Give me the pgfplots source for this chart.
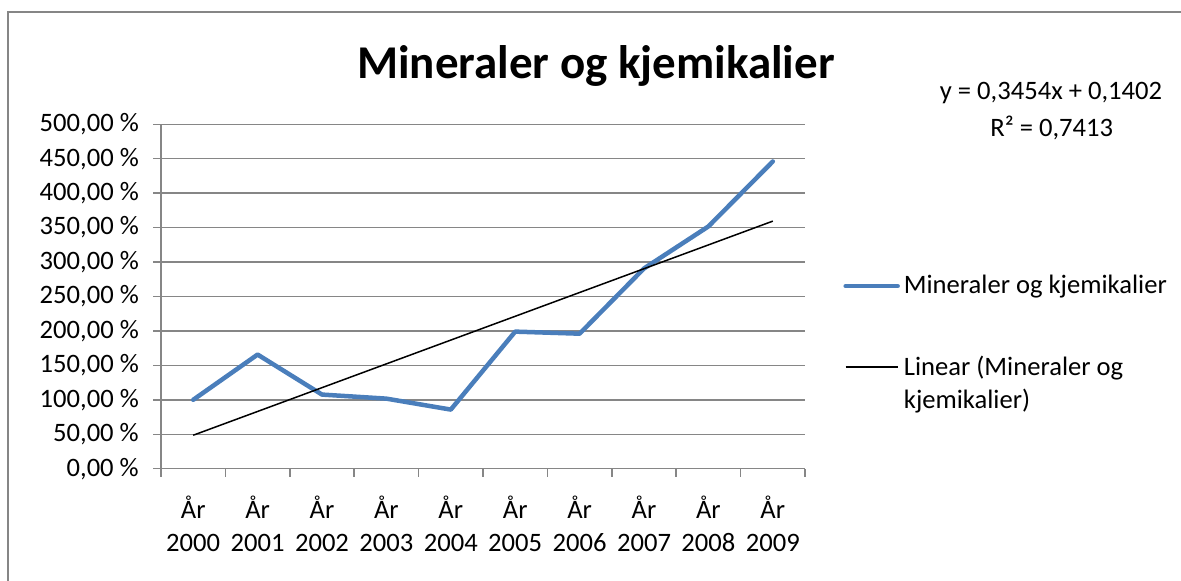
\documentclass[border=0pt]{standalone}
\usepackage{fontspec}
\setmainfont{Carlito}
\usepackage{pgfplots}
\pgfplotsset{compat=1.18}
\definecolor{exblue}{HTML}{4A7EBB}
\definecolor{exgray}{HTML}{868686}
\begin{document}
\begin{tikzpicture}[x=0.5pt,y=0.5pt]
\useasboundingbox (0,0) rectangle (1181,581);
\draw[exgray, line width=1pt] (8,0) -- (8,569) -- (1181,569);
\node[font=\fontsize{23.5}{28}\selectfont\bfseries, anchor=base, inner sep=0pt] at (596,502.7) {Mineraler og kjemikalier};
\node[font=\fontsize{13.3}{16}\selectfont, anchor=base, inner sep=0pt] at (1051,481) {y = 0,3454x + 0,1402};
\node[font=\fontsize{13.3}{16}\selectfont, anchor=base, inner sep=0pt] at (1051.7,444) {R² = 0,7413};
\begin{axis}[
  at={(80.5pt,56.15pt)}, anchor=south west,
  scale only axis, width=322pt, height=172.2pt,
  xmin=0.5, xmax=10.5, ymin=0, ymax=500,
  axis x line*=bottom, axis y line*=left,
  axis line style={exgray, line width=0.75pt},
  tick align=outside, major tick length=4pt,
  tick style={exgray, line width=0.75pt},
  ytick={0,50,...,500},
  yticklabels={{0,00 \%},{50,00 \%},{100,00 \%},{150,00 \%},{200,00 \%},{250,00 \%},{300,00 \%},{350,00 \%},{400,00 \%},{450,00 \%},{500,00 \%}},
  yticklabel style={font=\fontsize{13.3}{16}\selectfont, xshift=-3.6pt},
  xtick={0.5,1.5,...,10.5}, xticklabels={},
  extra x ticks={1,2,3,4,5,6,7,8,9,10},
  extra x tick labels={{År\\2000},{År\\2001},{År\\2002},{År\\2003},{År\\2004},{År\\2005},{År\\2006},{År\\2007},{År\\2008},{År\\2009}},
  extra x tick style={major tick length=0pt, xticklabel style={align=center, font=\fontsize{13.3}{16.5}\selectfont, yshift=-10pt}},
  ymajorgrids, grid style={exgray, line width=0.75pt},
  legend image code/.code={\draw[#1] (0pt,0pt) -- (26pt,0pt);},
  legend cell align=left,
  legend style={at={(axis description cs:1.059,0.574)}, anchor=north west, draw=none, fill=none,
    font=\fontsize{13.3}{16.5}\selectfont, cells={align=left, inner sep=0pt}, row sep=25.5pt, inner sep=0pt,
    /tikz/every even column/.append style={column sep=0pt}},
]
\addplot[exblue, line width=2.25pt, line join=round, line cap=round] coordinates {
 (1,100) (2,165.7) (3,107.6) (4,101.7) (5,85.8) (6,199) (7,196) (8,290.7) (9,351.7) (10,446)};
\addlegendentry{Mineraler og kjemikalier}
\addplot[black, line width=0.75pt] coordinates {(1,48.56) (10,359.42)};
\addlegendentry[yshift=-8.25pt]{Linear (Mineraler og\\kjemikalier)}
\end{axis}
\end{tikzpicture}
\end{document}
